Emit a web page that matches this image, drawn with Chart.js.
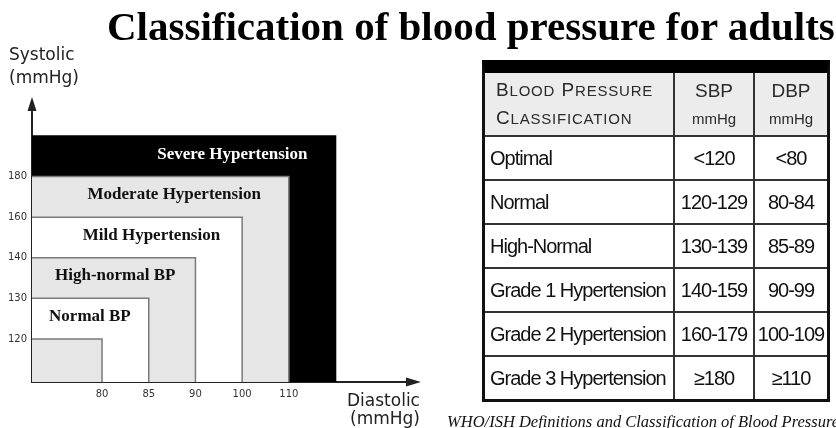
<!DOCTYPE html>
<html>
<head>
<meta charset="utf-8">
<script src="https://cdn.jsdelivr.net/npm/chart.js@4.4.0/dist/chart.umd.min.js"></script>
<style>
  html, body { margin: 0; padding: 0; background: #fff; }
  body { width: 836px; height: 428px; position: relative; overflow: hidden; }
  #chart { position: absolute; left: 0; top: 0; }
  #title {
    position: absolute; left: 107px; top: 6px; white-space: nowrap;
    font: bold 41px 'Liberation Serif', 'Times New Roman', serif; color: #000; line-height: 40px;
  }
  #bpTable {
    position: absolute; left: 482px; top: 60px; width: 348px;
    border-collapse: separate; border-spacing: 0; table-layout: fixed;
    border: 3px solid #111; border-top: 13px solid #000;
    font-family: 'Liberation Sans', Arial, sans-serif; color: #111;
  }
  #bpTable td {
    box-sizing: border-box; padding: 0; height: 44px;
    border-right: 2px solid #333; border-bottom: 2px solid #333;
    font-size: 20px; letter-spacing: -1px; text-align: center; vertical-align: middle;
  }
  #bpTable td:last-child { border-right: none; }
  #bpTable tr:last-child td { border-bottom: none; height: 42px; }
  #bpTable td.name { text-align: left; padding-left: 5px; }
  #bpTable tr.head td { background: #ececec; height: 64px; color: #2a2a2a; letter-spacing: 0; line-height: 27px; }
  #bpTable tr.head td.name { padding-left: 11px; letter-spacing: 0.8px; }
  .big { font-size: 19px; }
  .sm { font-size: 15px; }
  .unit { font-size: 15px; }
  #note {
    position: absolute; left: 447px; top: 412px; white-space: nowrap; line-height: 18px;
    font: italic 16.5px 'Liberation Serif', 'Times New Roman', serif; color: #111;
  }
</style>
</head>
<body>
<canvas id="chart" width="836" height="428"></canvas>
<div id="title">Classification of blood pressure for adults</div>
<table id="bpTable"></table>
<div id="note">WHO/ISH Definitions and Classification of Blood Pressure</div>
<script>
// chart data
const diastolicTicks = [80, 85, 90, 100, 110];
const systolicTicks = [120, 130, 140, 160, 180];
const zoneNames = ['', 'Normal BP', 'High-normal BP', 'Mild Hypertension', 'Moderate Hypertension', 'Severe Hypertension'];

// table data
const classNames = ['Optimal', 'Normal', 'High-Normal', 'Grade 1 Hypertension', 'Grade 2 Hypertension', 'Grade 3 Hypertension'];
const sbpRanges = ['<120', '120-129', '130-139', '140-159', '160-179', '\u2265180'];
const dbpRanges = ['<80', '80-84', '85-89', '90-99', '100-109', '\u2265110'];

// estilos de las zonas
const zoneFill = ['#e6e6e6', '#ffffff', '#e6e6e6', '#ffffff', '#e6e6e6', '#000000'];
const zoneBorder = ['#7a7a7a', '#7a7a7a', '#7a7a7a', '#7a7a7a', '#7a7a7a', '#000000'];
const labelOffset = [0, 18, 20, 22, 28, 28];

// posicion en la escala (indice de la marca)
const xPos = i => i < diastolicTicks.length ? i + 1.5 : diastolicTicks.length + 1.5;
const yPos = i => i < systolicTicks.length ? i + 1.06 : systolicTicks.length + 1.06;

const datasets = zoneNames.map((name, i) => ({
  label: name,
  data: [{ x: 0, y: yPos(i) }, { x: xPos(i), y: yPos(i) }, { x: xPos(i), y: 0 }],
  showLine: true,
  fill: 'origin',
  backgroundColor: zoneFill[i],
  borderColor: zoneBorder[i],
  borderWidth: 1.5,
  pointRadius: 0,
  tension: 0
}));

// textos de zonas, titulos de ejes y flechas
const decorPlugin = {
  id: 'decor',
  afterDatasetsDraw(chart) {
    const { ctx, scales: { x, y } } = chart;
    ctx.save();
    ctx.font = 'bold 17px "Liberation Serif", "Times New Roman", serif';
    ctx.textAlign = 'right';
    ctx.textBaseline = 'middle';
    zoneNames.forEach((name, i) => {
      if (!name) return;
      const right = x.getPixelForValue(xPos(i));
      const top = y.getPixelForValue(yPos(i));
      const bottom = y.getPixelForValue(yPos(i - 1));
      ctx.fillStyle = i === zoneNames.length - 1 ? '#fff' : '#111';
      ctx.fillText(name, right - labelOffset[i], (top + bottom) / 2 - 2);
    });
    ctx.restore();
  },
  afterDraw(chart) {
    const { ctx, chartArea: a } = chart;
    ctx.save();
    ctx.fillStyle = '#222';
    ctx.beginPath();
    ctx.moveTo(a.left - 4.5, a.top + 1);
    ctx.lineTo(a.left, a.top - 13);
    ctx.lineTo(a.left + 4.5, a.top + 1);
    ctx.fill();
    ctx.beginPath();
    ctx.moveTo(a.right - 1, a.bottom - 4.5);
    ctx.lineTo(a.right + 14, a.bottom);
    ctx.lineTo(a.right - 1, a.bottom + 4.5);
    ctx.fill();

    ctx.font = '17px "DejaVu Sans", sans-serif';
    ctx.textAlign = 'left';
    ctx.textBaseline = 'middle';
    ctx.fillText('Systolic', 9, 56);
    ctx.fillText('(mmHg)', 9, 79);
    ctx.fillText('Diastolic', 347, 402);
    ctx.fillText('(mmHg)', 350, 420);
    ctx.restore();
  }
};

new Chart(document.getElementById('chart'), {
  type: 'scatter',
  data: { datasets: datasets },
  options: {
    responsive: false,
    animation: false,
    layout: { padding: { left: 6, top: 110, right: 429, bottom: 26 } },
    plugins: { legend: { display: false }, tooltip: { enabled: false } },
    scales: {
      x: {
        type: 'linear', min: 0, max: 8.03, z: 1,
        grid: { display: false, drawTicks: false },
        border: { display: true, color: '#222', width: 2 },
        afterBuildTicks: s => { s.ticks = diastolicTicks.map((v, i) => ({ value: xPos(i) })); },
        afterFit: s => { s.height = 20; },
        ticks: {
          callback: (v, i) => diastolicTicks[i],
          font: { size: 10, family: 'DejaVu Sans' }, color: '#333',
          padding: 6, autoSkip: false, maxRotation: 0
        }
      },
      y: {
        type: 'linear', min: 0, max: 6.70, z: 1,
        grid: { display: false, drawTicks: false },
        border: { display: true, color: '#222', width: 2 },
        afterBuildTicks: s => { s.ticks = systolicTicks.map((v, i) => ({ value: yPos(i) })); },
        afterFit: s => { s.width = 26; },
        ticks: {
          callback: (v, i) => systolicTicks[i],
          font: { size: 10, family: 'DejaVu Sans' }, color: '#333',
          padding: 5, autoSkip: false
        }
      }
    }
  },
  plugins: [decorPlugin]
});

// tabla
const table = document.getElementById('bpTable');
const colWidths = [190, 80, 72];
let html = '<colgroup>' + colWidths.map(w => `<col style="width:${w}px">`).join('') + '</colgroup>';
html += '<tr class="head">' +
  '<td class="name"><span class="big">B</span><span class="sm">LOOD</span> <span class="big">P</span><span class="sm">RESSURE</span><br>' +
  '<span class="big">C</span><span class="sm">LASSIFICATION</span></td>' +
  '<td><span class="big">SBP</span><br><span class="unit">mmHg</span></td>' +
  '<td><span class="big">DBP</span><br><span class="unit">mmHg</span></td></tr>';
classNames.forEach((name, i) => {
  html += `<tr><td class="name">${name}</td><td>${sbpRanges[i].replace('<', '&lt;')}</td><td>${dbpRanges[i].replace('<', '&lt;')}</td></tr>`;
});
table.innerHTML = html;
</script>
</body>
</html>
